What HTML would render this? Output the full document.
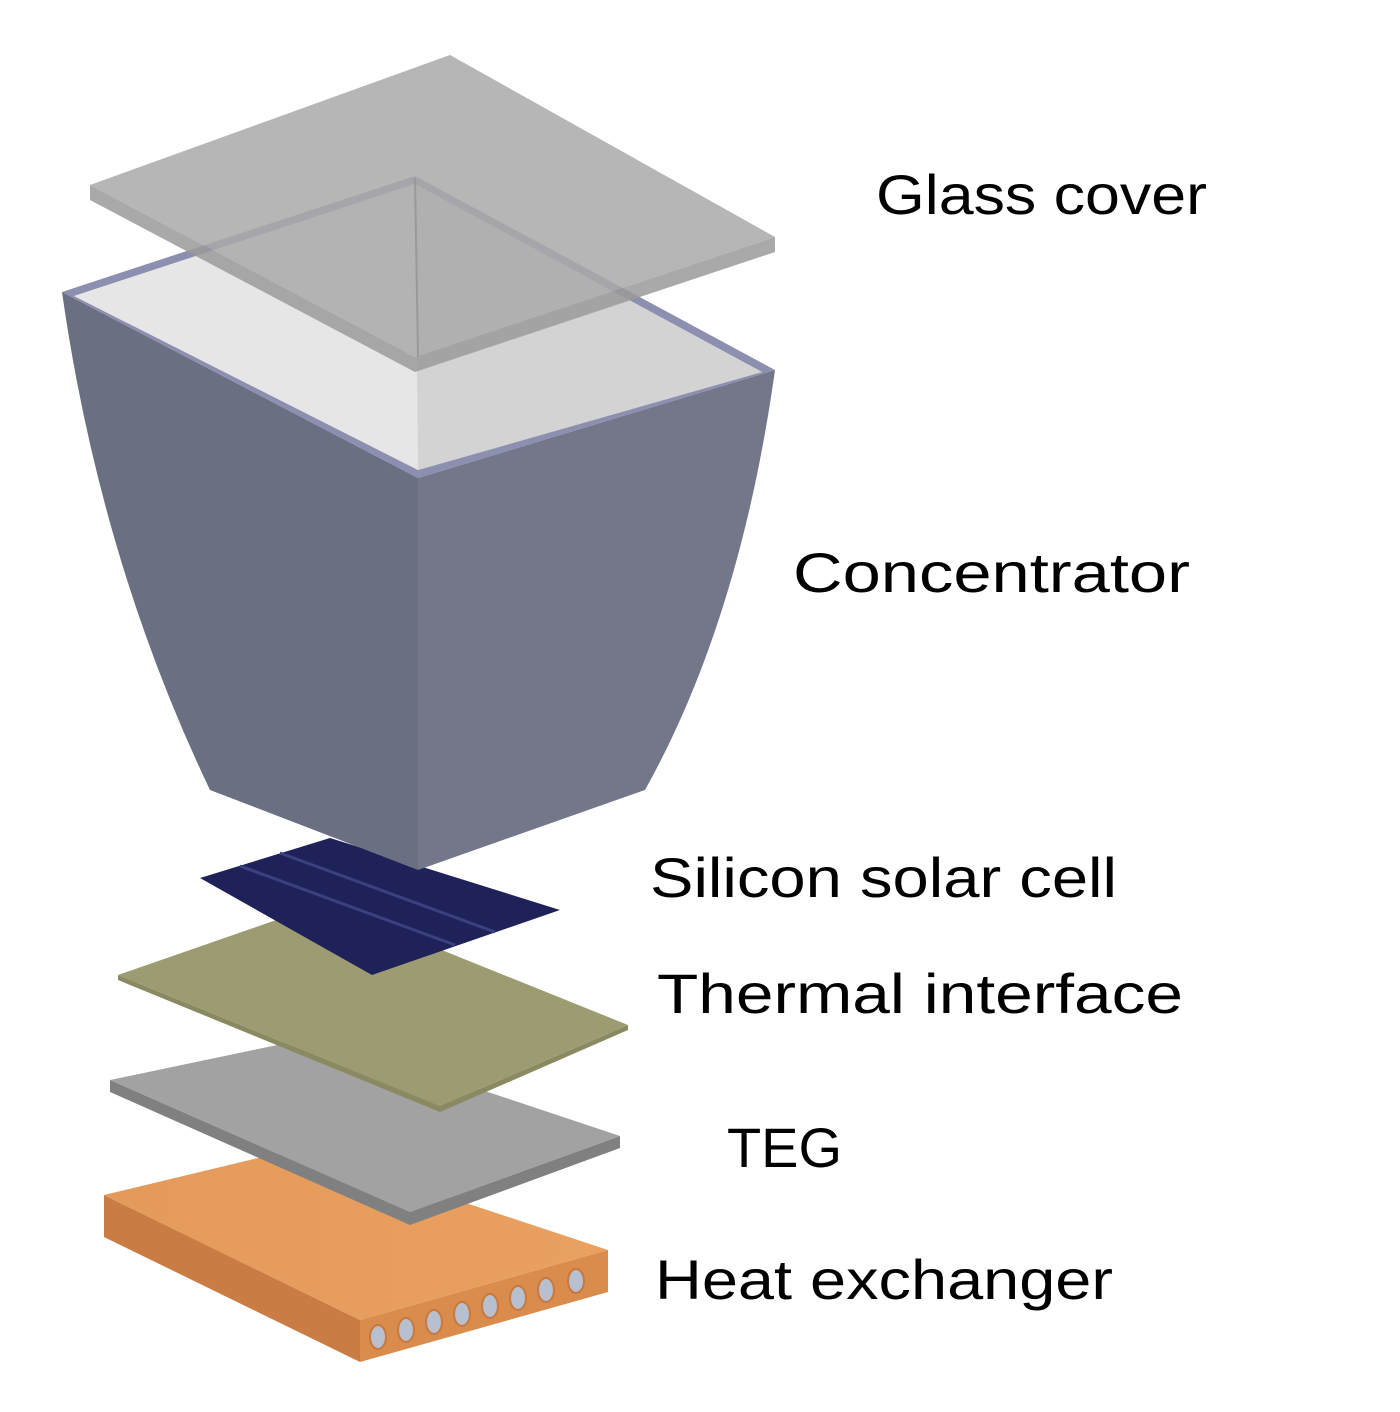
<!DOCTYPE html>
<html><head><style>html,body{margin:0;padding:0;background:#fff}svg{display:block}</style></head><body>
<svg width="1400" height="1412" viewBox="0 0 1400 1412" xmlns="http://www.w3.org/2000/svg">
<defs>
<linearGradient id="hx" x1="0" y1="0" x2="1" y2="0"><stop offset="0" stop-color="#e49a5a"/><stop offset="1" stop-color="#e9a060"/></linearGradient>
</defs>
<!-- Heat exchanger -->
<polygon points="104,1195 104,1237 360,1362 360,1320" fill="#c97d44"/>
<polygon points="360,1320 360,1362 608,1292 608,1250" fill="#d98c4c"/>
<polygon points="104,1195 300,1148 608,1250 360,1320" fill="url(#hx)"/>
<g fill="#b8c0d0" stroke="#c7783e" stroke-width="2">
<ellipse cx="378" cy="1337" rx="8" ry="12"/><ellipse cx="406" cy="1330" rx="8" ry="12"/>
<ellipse cx="434" cy="1322" rx="8" ry="12"/><ellipse cx="462" cy="1314" rx="8" ry="12"/>
<ellipse cx="490" cy="1306" rx="8" ry="12"/><ellipse cx="518" cy="1298" rx="8" ry="12"/>
<ellipse cx="546" cy="1290" rx="8" ry="12"/><ellipse cx="576" cy="1281" rx="8" ry="12"/>
</g>
<!-- TEG -->
<polygon points="110,1080 110,1092 410,1225 620,1148 620,1136 410,1212" fill="#808080"/>
<polygon points="110,1080 320,1036 620,1136 410,1212" fill="#a2a2a2"/>
<!-- Thermal interface -->
<polygon points="118,975 118,980 440,1112 628,1030 628,1025 440,1106" fill="#8a8a62"/>
<polygon points="118,975 325,903 628,1025 440,1106" fill="#9d9b72"/>
<!-- Solar cell -->
<polygon points="200,878 330,838 560,910 372,975" fill="#1e2258"/>
<g stroke="#3a4080" stroke-width="3">
<line x1="240" y1="866" x2="455" y2="945"/><line x1="280" y1="853" x2="495" y2="932"/>
</g>
<!-- Concentrator body -->
<path d="M62,292 L418,478 L418,870 L210,790 Q100,560 62,292 Z" fill="#6b6f82"/>
<path d="M418,478 L775,370 Q740,620 645,790 L418,870 Z" fill="#747789"/>
<!-- Concentrator top opening -->
<polygon points="62,292 415,176 775,370 418,478" fill="#8c8fb0"/>
<polygon points="74,296 415,184 762,372 418,470" fill="#e3e3e3"/>
<polygon points="415,184 762,372 418,470" fill="#d3d3d3"/>
<polygon points="415,184 418,470 74,296" fill="#e6e6e6"/>
<!-- Glass cover -->
<polygon points="90,185 90,200 415,372 775,252 775,237 415,357" fill="#9a9a9a" opacity="0.85"/>
<polygon points="90,185 450,55 775,237 415,357" fill="#a9a9a9" opacity="0.85"/>
<polygon points="415,178 418,357" stroke="#999" stroke-width="2" fill="none"/>
<g font-family="Liberation Sans, sans-serif" font-size="56" fill="#000">
<text x="876" y="214" textLength="331" lengthAdjust="spacingAndGlyphs">Glass cover</text>
<text x="793" y="592" textLength="397" lengthAdjust="spacingAndGlyphs">Concentrator</text>
<text x="650" y="897" textLength="467" lengthAdjust="spacingAndGlyphs">Silicon solar cell</text>
<text x="657" y="1013" textLength="526" lengthAdjust="spacingAndGlyphs">Thermal interface</text>
<text x="727" y="1167" textLength="115" lengthAdjust="spacingAndGlyphs">TEG</text>
<text x="655" y="1299" textLength="458" lengthAdjust="spacingAndGlyphs">Heat exchanger</text>
</g>
</svg>
</body></html>
